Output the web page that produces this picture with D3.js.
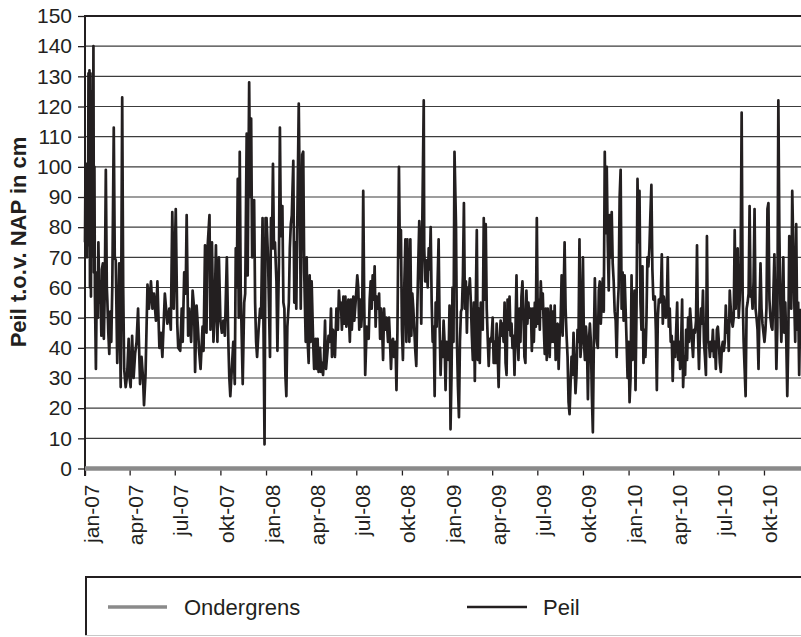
<!DOCTYPE html>
<html>
<head>
<meta charset="utf-8">
<script src="https://cdn.jsdelivr.net/npm/d3@7/dist/d3.min.js"></script>
<style>
    body { margin: 0; background: #fff; }
    svg { display: block; font-family: "Liberation Sans", Arial, sans-serif; }
</style>
</head>
<body>
<div id="chart"></div>
<script>
// Peil (cm t.o.v. NAP), [dag van het jaar, waarde]
const peil2007 = [[0,75],[1,100],[2,78],[3,101],[4,70],[5,95],[6,74],[7,131],[8,80],[9,132],[10,60],[11,131],[12,57],[13,110],[14,70],[15,125],[16,85],[17,140],[18,65],[19,100],[20,58],[22,33],[24,65],[26,50],[27,75],[29,55],[31,62],[33,44],[34,66],[36,68],[38,43],[40,60],[42,99],[44,60],[45,56],[47,45],[49,38],[51,52],[53,42],[55,60],[58,113],[60,70],[62,69],[65,35],[67,50],[69,68],[72,27],[75,123],[77,60],[79,33],[82,27],[85,31],[88,43],[90,30],[92,27],[95,44],[98,30],[101,38],[104,42],[107,53],[111,28],[114,37],[117,30],[119,21],[122,31],[126,61],[129,53],[133,62],[136,53],[139,58],[143,49],[146,62],[150,40],[153,45],[156,37],[161,58],[166,48],[170,53],[173,46],[176,85],[179,53],[183,86],[186,48],[188,40],[192,39],[195,53],[197,42],[200,65],[203,58],[205,84],[208,44],[210,53],[214,42],[217,59],[220,53],[222,32],[225,54],[228,46],[230,39],[233,33],[237,47],[239,39],[242,74],[245,45],[247,73],[251,84],[253,46],[256,75],[259,42],[261,49],[264,74],[267,42],[270,70],[273,49],[276,45],[279,49],[282,44],[286,70],[289,42],[291,30],[293,24],[296,33],[299,42],[302,28],[304,73],[306,60],[308,96],[310,50],[312,105],[314,59],[318,28],[321,55],[323,58],[326,111],[328,64],[331,128],[333,90],[335,116],[337,70],[341,89],[343,55],[345,42],[347,37],[350,46],[353,53],[355,50],[358,83],[360,45],[362,8],[364,83]];
const peil2008 = [[1,83],[4,70],[8,37],[10,83],[12,73],[14,101],[16,73],[18,75],[21,62],[23,39],[26,68],[28,113],[30,77],[33,87],[35,55],[37,53],[39,31],[41,24],[43,47],[46,55],[48,73],[50,81],[52,84],[55,102],[57,55],[59,75],[61,53],[63,81],[66,121],[68,89],[70,53],[73,104],[75,105],[77,65],[80,42],[82,70],[84,42],[86,35],[88,64],[90,42],[92,62],[95,42],[97,33],[100,43],[102,33],[104,43],[106,32],[109,40],[111,32],[113,35],[115,31],[117,37],[119,49],[121,33],[124,39],[126,44],[129,42],[131,53],[133,37],[135,46],[139,37],[142,53],[145,46],[147,59],[149,53],[151,55],[153,46],[156,57],[158,48],[160,57],[162,47],[166,56],[169,42],[171,56],[173,46],[176,57],[178,49],[181,56],[184,64],[186,60],[188,46],[190,56],[192,47],[194,53],[196,92],[198,55],[200,31],[203,47],[205,46],[207,43],[209,56],[211,62],[213,53],[215,64],[217,56],[219,67],[221,47],[223,57],[226,53],[228,58],[230,43],[232,53],[234,47],[236,36],[238,53],[240,46],[243,50],[246,42],[248,50],[250,42],[252,33],[254,42],[256,43],[258,37],[261,42],[263,26],[265,46],[268,100],[270,70],[272,79],[274,46],[276,36],[278,55],[281,76],[283,42],[285,76],[287,58],[289,42],[291,76],[293,44],[295,58],[297,53],[299,46],[301,39],[303,34],[305,53],[307,68],[309,82],[311,73],[313,48],[315,80],[318,122],[319,73],[321,62],[324,69],[326,60],[328,73],[330,66],[332,80],[334,55],[336,42],[338,47],[340,24],[342,55],[344,47],[346,62],[348,76],[350,47],[352,31],[354,42],[356,37],[358,49],[360,42],[362,26],[364,42]];
const peil2009 = [[0,37],[2,36],[4,54],[6,13],[8,31],[10,60],[12,42],[14,105],[17,81],[19,42],[21,27],[23,17],[25,42],[27,52],[29,53],[31,64],[33,88],[35,53],[37,62],[39,45],[41,60],[43,58],[45,63],[47,55],[49,44],[51,36],[53,55],[55,29],[57,56],[59,79],[61,36],[63,53],[65,35],[67,55],[69,53],[71,46],[73,83],[75,56],[77,81],[79,53],[81,43],[83,34],[85,43],[87,42],[89,44],[91,50],[93,35],[95,42],[97,35],[99,48],[101,38],[103,27],[105,42],[107,49],[109,44],[111,48],[113,42],[115,55],[117,35],[119,31],[121,56],[123,46],[125,57],[127,44],[129,48],[131,40],[133,44],[135,31],[137,46],[139,64],[141,43],[143,36],[145,53],[147,42],[149,57],[151,62],[153,53],[155,37],[157,35],[159,59],[161,48],[163,55],[165,50],[168,53],[170,39],[172,53],[174,42],[176,55],[178,47],[180,83],[182,48],[184,56],[186,46],[188,62],[190,53],[192,58],[194,47],[196,38],[198,53],[200,36],[202,53],[204,46],[206,37],[208,54],[210,42],[212,52],[214,42],[216,54],[218,36],[220,47],[222,48],[224,33],[226,44],[228,49],[230,64],[232,44],[234,57],[236,75],[238,53],[240,44],[242,37],[244,22],[246,18],[248,28],[250,37],[252,31],[254,45],[256,35],[258,25],[260,31],[262,46],[264,42],[266,76],[268,37],[270,42],[273,70],[275,42],[277,36],[279,47],[281,42],[283,23],[285,42],[287,48],[289,42],[291,24],[293,12],[295,42],[297,63],[299,47],[301,42],[303,40],[305,59],[307,62],[309,48],[311,56],[313,63],[315,52],[317,105],[319,78],[321,100],[323,75],[325,59],[327,84],[329,70],[331,85],[333,68],[335,62],[337,52],[339,49],[341,37],[343,53],[345,60],[347,90],[349,99],[351,53],[353,65],[355,49],[357,64],[359,53],[361,42],[363,30]];
const peil2010 = [[0,42],[2,22],[4,30],[6,64],[8,36],[10,42],[12,59],[14,26],[16,53],[18,96],[20,75],[22,92],[24,55],[26,46],[28,67],[30,35],[32,46],[34,37],[36,49],[38,70],[40,67],[42,73],[44,84],[46,94],[48,66],[50,56],[53,57],[55,46],[57,26],[59,50],[61,56],[63,55],[65,57],[67,71],[69,48],[71,57],[73,54],[75,50],[77,54],[79,70],[81,47],[83,53],[85,42],[87,44],[89,29],[91,42],[94,37],[96,46],[98,55],[100,36],[102,42],[104,33],[106,42],[108,56],[110,27],[112,37],[114,31],[116,46],[118,36],[120,50],[122,42],[124,53],[126,48],[128,42],[130,37],[132,46],[134,45],[136,49],[138,74],[140,44],[142,33],[144,46],[146,53],[148,48],[150,59],[152,42],[154,37],[156,31],[158,77],[160,42],[162,42],[164,37],[166,42],[168,39],[170,46],[172,37],[174,42],[176,33],[178,46],[180,47],[182,42],[184,35],[186,32],[188,40],[190,42],[192,39],[194,42],[196,54],[198,45],[200,49],[202,39],[204,59],[206,53],[208,49],[210,47],[212,50],[214,79],[216,53],[218,70],[220,73],[222,50],[224,56],[226,68],[228,118],[230,58],[232,42],[234,33],[236,24],[238,53],[240,55],[242,58],[244,87],[246,57],[248,59],[250,53],[252,62],[254,86],[256,53],[258,50],[260,46],[262,33],[264,53],[266,68],[268,53],[270,48],[272,45],[274,42],[276,46],[278,53],[280,86],[282,88],[284,56],[286,50],[288,47],[290,46],[292,58],[294,71],[296,53],[298,33],[300,47],[302,122],[304,79],[306,55],[308,42],[310,53],[312,70],[314,45],[316,55],[318,42],[320,24],[322,42],[324,77],[326,70],[328,53],[330,92],[332,75],[334,56],[336,42],[338,81],[340,46],[342,55],[344,31],[346,53]];

// Ondergrens is een vaste lijn op 0 cm
const ondergrens = [["2007-01-01", 0], ["2011-01-01", 0]];

const yTicks = [0, 10, 20, 30, 40, 50, 60, 70, 80, 90, 100, 110, 120, 130, 140, 150];
const monthNames = ["jan", "feb", "mrt", "apr", "mei", "jun", "jul", "aug", "sep", "okt", "nov", "dec"];
const legendItems = ["Ondergrens", "Peil"];

let width = 801, height = 637;

let svg = d3.select("#chart")
    .append("svg")
    .attr("width", width)
    .attr("height", height);

let peilData = [];
[[2007, peil2007], [2008, peil2008], [2009, peil2009], [2010, peil2010]].forEach(([year, rows]) => {
    rows.forEach(r => peilData.push({ date: d3.timeDay.offset(new Date(year, 0, 1), r[0]), value: r[1] }));
});
let grensData = ondergrens.map(r => ({ date: d3.timeParse("%Y-%m-%d")(r[0]), value: r[1] }));

let x = d3.scaleTime()
    .domain([new Date(2007, 0, 1), new Date(2011, 0, 1)])
    .range([85, 809.6]);
let y = d3.scaleLinear()
    .domain([0, 150])
    .range([468.5, 16]);

// gridlines
svg.append("g")
    .selectAll("line")
    .data(yTicks.filter(d => d > 0))
    .enter()
    .append("line")
    .attr("x1", 85)
    .attr("x2", width)
    .attr("y1", d => y(d))
    .attr("y2", d => y(d))
    .attr("stroke", d => d == 150 ? "#231f20" : "#3c3c3c")
    .attr("stroke-width", d => d == 150 ? 2 : 1.2);

// y axis
let yAxis = svg.append("g")
    .attr("transform", "translate(85,0)")
    .call(d3.axisLeft(y).tickValues(yTicks).tickSize(7).tickSizeOuter(0).tickPadding(6));
yAxis.select(".domain").remove();
yAxis.selectAll(".tick line").attr("stroke", "#231f20").attr("stroke-width", 1.3);
yAxis.selectAll(".tick text")
    .style("font-size", "21px")
    .attr("fill", "#231f20");
svg.append("line")
    .attr("x1", 85).attr("x2", 85)
    .attr("y1", 15).attr("y2", 476)
    .attr("stroke", "#231f20")
    .attr("stroke-width", 2);

// y title
svg.append("text")
    .attr("transform", "translate(26,242) rotate(-90)")
    .attr("text-anchor", "middle")
    .style("font-size", "22px")
    .style("font-weight", "bold")
    .attr("fill", "#231f20")
    .text("Peil t.o.v. NAP in cm");

// x axis
let tickDates = d3.timeMonth.every(3).range(new Date(2007, 0, 1), new Date(2010, 11, 31));
let xAxis = svg.append("g")
    .attr("transform", "translate(0," + y(0) + ")")
    .call(d3.axisBottom(x)
        .tickValues(tickDates)
        .tickSize(7)
        .tickSizeOuter(0)
        .tickFormat(d => monthNames[d.getMonth()] + "-" + d3.timeFormat("%y")(d)));
xAxis.select(".domain").remove();
xAxis.selectAll(".tick line").attr("stroke", "#231f20").attr("stroke-width", 1.3);
xAxis.selectAll(".tick text")
    .attr("x", 0)
    .attr("y", 0)
    .attr("dy", 0)
    .attr("text-anchor", "end")
    .attr("transform", "translate(13,16) rotate(-90)")
    .style("font-size", "21px")
    .attr("fill", "#231f20");

let line = d3.line()
    .x(d => x(d.date))
    .y(d => y(d.value));

// Peil
svg.append("path")
    .datum(peilData)
    .attr("d", line)
    .attr("fill", "none")
    .attr("stroke", "#231f20")
    .attr("stroke-width", 2.7)
    .attr("stroke-linejoin", "round");

// Ondergrens
svg.append("path")
    .datum(grensData)
    .attr("d", line)
    .attr("fill", "none")
    .attr("stroke", "#8a8a8a")
    .attr("stroke-width", 4.5);

// legend box: dark top and left edge, light bottom edge
let legend = svg.append("g");
legend.append("path")
    .attr("d", "M86,636 V577 H" + width)
    .attr("fill", "none")
    .attr("stroke", "#231f20")
    .attr("stroke-width", 2);
legend.append("line")
    .attr("x1", 85).attr("x2", width)
    .attr("y1", 635.5).attr("y2", 635.5)
    .attr("stroke", "#c8c8c8")
    .attr("stroke-width", 1);

let legendPos = [{ x1: 108, x2: 167, tx: 184, color: "#8a8a8a", w: 3.5 }, { x1: 467, x2: 527, tx: 543, color: "#231f20", w: 2.7 }];
legendItems.forEach((name, i) => {
    let p = legendPos[i];
    legend.append("line")
        .attr("x1", p.x1).attr("x2", p.x2)
        .attr("y1", 607).attr("y2", 607)
        .attr("stroke", p.color)
        .attr("stroke-width", p.w);
    legend.append("text")
        .attr("x", p.tx)
        .attr("y", 615)
        .style("font-size", "22px")
        .attr("fill", "#231f20")
        .text(name);
});
</script>
</body>
</html>
